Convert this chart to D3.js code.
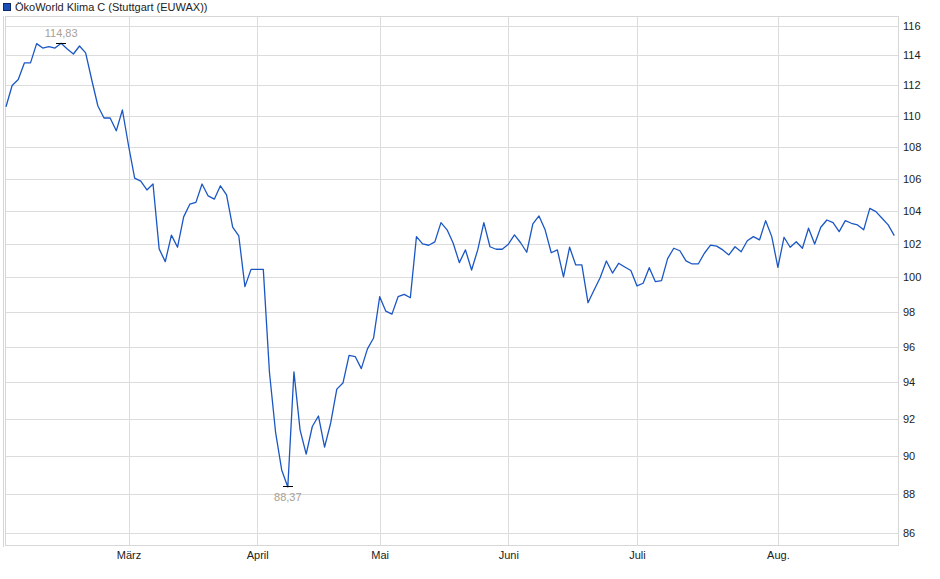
<!DOCTYPE html>
<html>
<head>
<meta charset="utf-8">
<script src="https://cdn.jsdelivr.net/npm/d3@7"></script>
<style>
  body { margin: 0; background: #fff; }
  svg { font-family: "Liberation Sans", Arial, sans-serif; }
</style>
</head>
<body>
<div id="chart"></div>
<script>
//series name for the legend
var seriesName = "ÖkoWorld Klima C (Stuttgart (EUWAX))";

//closing prices, one per trading day (Feb - Aug)
var prices = [
  110.6, 112.0, 112.4, 113.5, 113.5, 114.8, 114.5, 114.6, 114.5, 114.83,
  114.44, 114.1, 114.64, 114.17, 112.36, 110.65, 109.87, 109.87, 109.04, 110.39,
  108.1, 106.04, 105.85, 105.3, 105.67, 101.7, 100.94, 102.53, 101.8, 103.64,
  104.42, 104.53, 105.67, 104.93, 104.73, 105.56, 104.99, 103.01, 102.48, 99.46,
  100.48, 100.48, 100.48, 94.57, 91.28, 89.26, 88.37, 94.58, 91.4, 90.1,
  91.58, 92.15, 90.47, 91.77, 93.62, 93.96, 95.5, 95.44, 94.76, 95.87,
  96.49, 98.87, 98.03, 97.86, 98.87, 99.01, 98.81, 102.44, 102.0, 101.92,
  102.12, 103.29, 102.85, 102.04, 100.88, 101.64, 100.44, 101.64, 103.29, 101.83,
  101.68, 101.68, 101.98, 102.54, 102.07, 101.5, 103.21, 103.7, 102.85, 101.47,
  101.64, 100.04, 101.8, 100.74, 100.74, 98.52, 99.26, 100.0, 100.98, 100.26,
  100.84, 100.62, 100.41, 99.5, 99.66, 100.58, 99.75, 99.81, 101.12, 101.74,
  101.59, 100.98, 100.8, 100.8, 101.44, 101.93, 101.87, 101.64, 101.34, 101.83,
  101.53, 102.19, 102.44, 102.24, 103.41, 102.44, 100.6, 102.4, 101.8, 102.13,
  101.74, 102.95, 101.99, 103.01, 103.45, 103.29, 102.74, 103.41, 103.25, 103.15,
  102.85, 104.16, 103.96, 103.56, 103.15, 102.5
];

//first trading day of each month (index into prices) and its label
var monthTicks = [20, 41, 61, 82, 103, 126];
var monthLabels = ["März", "April", "Mai", "Juni", "Juli", "Aug."];

//price axis ticks
var priceTicks = [86, 88, 90, 92, 94, 96, 98, 100, 102, 104, 106, 108, 110, 112, 114, 116];

//constructor
function PriceChart(_data) {
  var vis = this;
  vis.data = _data;
  vis.init();
}

//function init
PriceChart.prototype.init = function() {
  var vis = this;
  vis.svgWidth = 940;
  vis.svgHeight = 579;
  //plot frame
  vis.frame = { left: 5, right: 898, top: 16, bottom: 545 };
  vis.svg = d3.select("#chart").append("svg")
    .attr("width", vis.svgWidth)
    .attr("height", vis.svgHeight);

  //x is by trading day, y is logarithmic
  vis.x = d3.scaleLinear()
    .domain([0, vis.data.length - 1])
    .range([6, 894.3]);
  vis.y = d3.scaleLog()
    .domain([86, 116])
    .range([533, 26]);

  vis.update();
};

//function update
PriceChart.prototype.update = function() {
  var vis = this;
  var f = vis.frame;

  //horizontal grid
  vis.svg.append("g")
    .attr("class", "grid-y")
    .attr("transform", "translate(" + f.right + ",0)")
    .call(d3.axisRight(vis.y)
      .tickValues(priceTicks)
      .tickSize(-(f.right - f.left))
      .tickPadding(5)
      .tickFormat(d3.format("d")))
    .call(function(g) {
      g.select(".domain").remove();
      g.selectAll("line").attr("stroke", "#dcdcdc").attr("shape-rendering", "crispEdges");
      g.selectAll("text").attr("fill", "#222").style("font-size", "11px");
    });

  //vertical month grid
  vis.svg.append("g")
    .attr("class", "grid-x")
    .attr("transform", "translate(0," + f.bottom + ")")
    .call(d3.axisBottom(vis.x)
      .tickValues(monthTicks)
      .tickSize(-(f.bottom - f.top))
      .tickPadding(6)
      .tickFormat(function(d, i) { return monthLabels[i]; }))
    .call(function(g) {
      g.select(".domain").remove();
      g.selectAll("line").attr("stroke", "#dcdcdc").attr("shape-rendering", "crispEdges");
      g.selectAll("text").attr("fill", "#222").style("font-size", "11px");
    });

  //frame round the plot
  vis.svg.append("rect")
    .attr("x", f.left)
    .attr("y", f.top)
    .attr("width", f.right - f.left)
    .attr("height", f.bottom - f.top)
    .attr("fill", "none")
    .attr("stroke", "#d6d6d6")
    .attr("shape-rendering", "crispEdges");
  //second line on the left edge
  vis.svg.append("line")
    .attr("x1", f.left - 2).attr("x2", f.left - 2)
    .attr("y1", f.top).attr("y2", f.bottom + 2)
    .attr("stroke", "#d6d6d6")
    .attr("shape-rendering", "crispEdges");

  //price line
  var line = d3.line()
    .x(function(d, i) { return vis.x(i); })
    .y(function(d) { return vis.y(d); });
  vis.svg.append("path")
    .datum(vis.data)
    .attr("d", line)
    .attr("fill", "none")
    .attr("stroke", "#1b57c4")
    .attr("stroke-width", 1.3)
    .attr("stroke-linejoin", "round");

  //high and low markers
  var maxVal = d3.max(vis.data);
  var minVal = d3.min(vis.data);
  var maxIdx = vis.data.indexOf(maxVal);
  var minIdx = vis.data.indexOf(minVal);
  var fmt = function(v) { return d3.format(".2f")(v).replace(".", ","); };

  [{ i: maxIdx, v: maxVal, dy: -6 }, { i: minIdx, v: minVal, dy: 14 }].forEach(function(m) {
    var cx = vis.x(m.i);
    var cy = vis.y(m.v);
    //marker bar
    vis.svg.append("line")
      .attr("x1", cx - 5).attr("x2", cx + 5)
      .attr("y1", cy).attr("y2", cy)
      .attr("stroke", "#000")
      .attr("stroke-width", 1)
      .attr("shape-rendering", "crispEdges");
    //marker value
    vis.svg.append("text")
      .text(fmt(m.v))
      .attr("x", cx)
      .attr("y", cy + m.dy)
      .style("fill", "#a8a096")
      .style("text-anchor", "middle")
      .style("font-size", "11px");
  });

  //legend swatch
  vis.svg.append("rect")
    .attr("x", 3.5)
    .attr("y", 3.5)
    .attr("width", 7)
    .attr("height", 7)
    .attr("fill", "#1a4fb8")
    .attr("stroke", "#0d2a66");
  //legend text
  vis.svg.append("text")
    .text(seriesName)
    .attr("x", 15)
    .attr("y", 11)
    .style("fill", "#222")
    .style("font-size", "11px");
};

var chart = new PriceChart(prices);
</script>
</body>
</html>
